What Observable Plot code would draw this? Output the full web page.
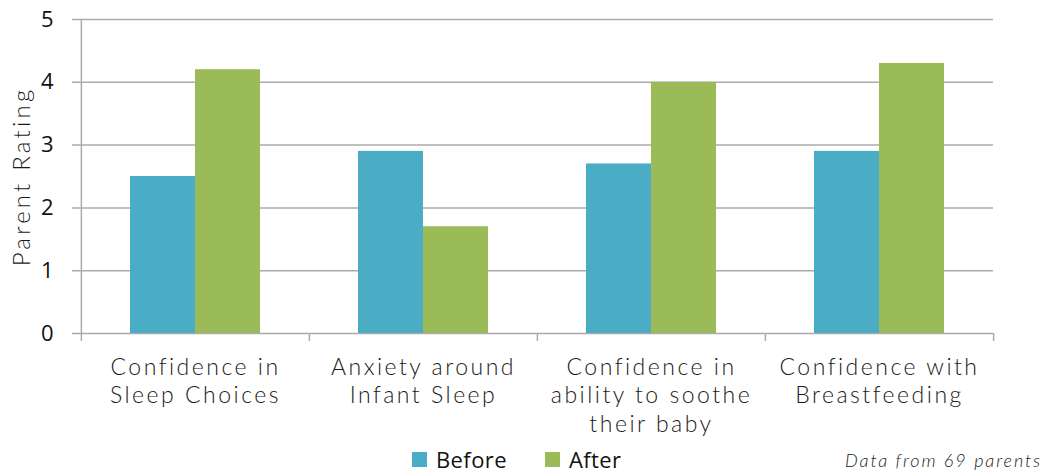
<!DOCTYPE html>
<html>
<head>
<meta charset="utf-8">
<script src="https://cdn.jsdelivr.net/npm/d3@7"></script>
<script src="https://cdn.jsdelivr.net/npm/@observablehq/plot@0.6"></script>
<style>
  body { margin: 0; background: #fff; }
  #chart { position: relative; width: 1044px; height: 474px; overflow: hidden; }
  #chart svg { display: block; }
  #chart g[aria-label="text"] { letter-spacing: 2.5px; }
  #chart text.y-title { letter-spacing: 3.2px; }
  .legend {
    position: absolute; left: 412px; top: 446px;
    font-family: "Open Sans", sans-serif; font-size: 22px; letter-spacing: 0.4px; color: #111;
    display: flex; align-items: center; line-height: 26px;
  }
  .legend .item { display: flex; align-items: center; margin-right: 38px; }
  .legend .sw { width: 15px; height: 15px; margin-right: 9px; display: inline-block; }
  .caption {
    position: absolute; right: 2px; top: 448px;
    font-family: Lato, sans-serif; font-style: italic; font-weight: 300;
    font-size: 18px; letter-spacing: 1.9px; color: #222; line-height: 24px;
  }
</style>
</head>
<body>
<div id="chart"></div>
<script>
// Survey categories (line breaks as they appear under the axis)
const categories = [
  "Confidence in\nSleep Choices",
  "Anxiety around\nInfant Sleep",
  "Confidence in\nability to soothe\ntheir baby",
  "Confidence with\nBreastfeeding"
];
const series = ["Before", "After"];
const beforeValues = [2.5, 2.9, 2.7, 2.9];
const afterValues = [4.2, 1.7, 4.0, 4.3];
const yTicks = [0, 1, 2, 3, 4, 5];
const seriesColors = ["#4BACC6", "#9BBB59"];
const captionText = "Data from 69 parents";
const yTitle = "Parent Rating";

const rows = categories.flatMap((c, i) => [
  {category: c, series: "Before", value: beforeValues[i]},
  {category: c, series: "After", value: afterValues[i]}
]);

const width = 1044, height = 442;
const marginLeft = 80, marginRight = 51, marginTop = 19, marginBottom = 109;
const step = (width - marginLeft - marginRight) / categories.length;
const groupWidth = 130;            // both bars of a category together
const half = groupWidth / 2;
const paddingInner = 1 - groupWidth / step;
const gridColor = "#ababab";
const labelFont = "Lato, sans-serif";

const chart = Plot.plot({
  width, height, marginLeft, marginRight, marginTop, marginBottom,
  style: {fontFamily: "'Open Sans', sans-serif", fontSize: "22px", color: "#111", background: "#fff"},
  x: {domain: categories, paddingInner, paddingOuter: paddingInner / 2, axis: null},
  y: {domain: [0, 5], ticks: yTicks, tickFormat: d3.format("d"), tickSize: 0, tickPadding: 27, label: null},
  color: {domain: series, range: seriesColors},
  marks: [
    // horizontal gridlines, with small stubs left of the axis
    Plot.ruleY(yTicks, {y: d => d, stroke: gridColor, strokeWidth: 1.5, insetLeft: -8}),
    // vertical axis line
    Plot.ruleX([categories[0]], {x: d => d, dx: -step / 2, stroke: gridColor, strokeWidth: 1.5, insetBottom: -8}),
    // category boundary ticks below the baseline
    Plot.ruleX(categories.slice(1), {x: d => d, dx: -step / 2, y1: 0, y2: 0, insetBottom: -8, stroke: gridColor, strokeWidth: 1.5}),
    Plot.ruleX([categories[categories.length - 1]], {x: d => d, dx: step / 2, y1: 0, y2: 0, insetBottom: -8, stroke: gridColor, strokeWidth: 1.5}),
    // bars: "Before" on the left half of each group, "After" on the right half
    Plot.barY(rows.filter(d => d.series === "Before"), {x: "category", y: "value", fill: "series", insetRight: half}),
    Plot.barY(rows.filter(d => d.series === "After"), {x: "category", y: "value", fill: "series", insetLeft: half}),
    // category labels
    Plot.text(categories, {
      x: d => d, text: d => d, frameAnchor: "bottom", lineAnchor: "top", dy: 22,
      lineHeight: 1.22, fontSize: 23, fontFamily: labelFont, fontWeight: 300, fill: "#1a1a1a"
    }),
    // y axis title
    Plot.text([yTitle], {
      text: d => d, frameAnchor: "left", textAnchor: "middle", rotate: -90, dx: -58,
      fontSize: 24, fontFamily: labelFont, fontWeight: 300, fill: "#1a1a1a"
    })
  ]
});

const root = document.getElementById("chart");
root.appendChild(chart);

// wider tracking for the rotated axis title
d3.select(chart).selectAll("text").filter(function () { return this.textContent === yTitle; })
  .classed("y-title", true);

// legend
const legend = document.createElement("div");
legend.className = "legend";
series.forEach((s, i) => {
  const item = document.createElement("span");
  item.className = "item";
  const sw = document.createElement("span");
  sw.className = "sw";
  sw.style.background = seriesColors[i];
  item.appendChild(sw);
  item.appendChild(document.createTextNode(s));
  legend.appendChild(item);
});
root.appendChild(legend);

// caption
const cap = document.createElement("div");
cap.className = "caption";
cap.textContent = captionText;
root.appendChild(cap);
</script>
</body>
</html>
